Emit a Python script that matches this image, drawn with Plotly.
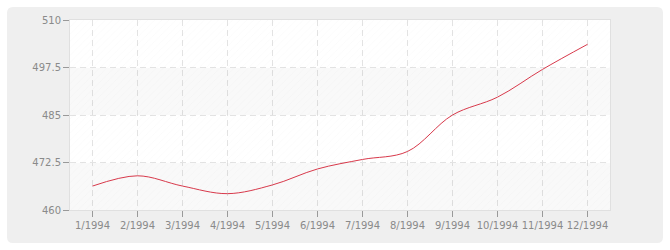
import plotly.graph_objects as go

months = ["1/1994", "2/1994", "3/1994", "4/1994", "5/1994", "6/1994",
          "7/1994", "8/1994", "9/1994", "10/1994", "11/1994", "12/1994"]
values = [466.3, 469.0, 466.3, 464.3, 466.6, 470.8,
          473.3, 475.4, 485.0, 489.7, 497.0, 503.6]
y_ticks = [460, 472.5, 485, 497.5, 510]
y_tick_text = ["460", "472.5", "485", "497.5", "510"]

x_idx = list(range(len(months)))

fig = go.Figure()

# background bands (alternating shade, hatched)
band_colors = ["rgba(0,0,0,0.022)", "rgba(0,0,0,0)", "rgba(0,0,0,0.022)", "rgba(0,0,0,0)"]
for i in range(4):
    fig.add_trace(go.Bar(
        x=[(len(months) - 1) / 2], y=[y_ticks[i + 1] - y_ticks[i]], base=[y_ticks[i]],
        width=[len(months)],
        marker=dict(color=band_colors[i], line=dict(width=0),
                    pattern=dict(shape="/", fgcolor="rgba(0,0,0,0.035)",
                                 bgcolor=band_colors[i], size=5, solidity=0.15)),
        hoverinfo="skip", showlegend=False,
    ))

fig.add_trace(go.Scatter(
    x=x_idx, y=values, mode="lines",
    line=dict(color="#d8394b", width=1, shape="spline", smoothing=1.0),
    showlegend=False,
))

W, H = 670, 250
ml, mr, mt, mb = 70, 60, 20, 40
pw, ph = W - ml - mr, H - mt - mb

def px(x):
    return (x - ml) / pw

def py(y):
    return (H - mb - y) / ph

x0, x1, y0, y1 = 7, 663, 7, 243
r = 6
path = (f"M {px(x0 + r)},{py(y0)} L {px(x1 - r)},{py(y0)} "
        f"Q {px(x1)},{py(y0)} {px(x1)},{py(y0 + r)} "
        f"L {px(x1)},{py(y1 - r)} Q {px(x1)},{py(y1)} {px(x1 - r)},{py(y1)} "
        f"L {px(x0 + r)},{py(y1)} Q {px(x0)},{py(y1)} {px(x0)},{py(y1 - r)} "
        f"L {px(x0)},{py(y0 + r)} Q {px(x0)},{py(y0)} {px(x0 + r)},{py(y0)} Z")

fig.add_shape(type="path", path=path, xref="paper", yref="paper",
              fillcolor="#efefef", line=dict(width=0), layer="below")
fig.add_shape(type="rect", xref="paper", yref="paper", x0=0, x1=1, y0=0, y1=1,
              fillcolor="white", line=dict(width=0), layer="below")

fig.update_layout(
    width=W, height=H,
    margin=dict(l=ml, r=mr, t=mt, b=mb),
    paper_bgcolor="white",
    plot_bgcolor="rgba(0,0,0,0)",
    barmode="overlay",
    bargap=0,
    font=dict(family="DejaVu Sans", size=10, color="#8a8a8a"),
)
fig.update_xaxes(
    range=[-0.5, len(months) - 0.5],
    tickmode="array", tickvals=x_idx, ticktext=months,
    showgrid=True, gridcolor="#e3e3e3", griddash="6px,4px", gridwidth=1,
    ticks="outside", ticklen=6, tickcolor="#999999", tickwidth=1,
    showline=True, linecolor="#e0e0e0", linewidth=1, mirror=True,
    zeroline=False,
)
fig.update_yaxes(
    range=[460, 510],
    tickmode="array", tickvals=y_ticks, ticktext=y_tick_text,
    showgrid=True, gridcolor="#e3e3e3", griddash="6px,4px", gridwidth=1,
    ticks="outside", ticklen=6, tickcolor="#999999", tickwidth=1,
    showline=True, linecolor="#e0e0e0", linewidth=1, mirror=True,
    zeroline=False,
)

fig.write_html("out.html")
